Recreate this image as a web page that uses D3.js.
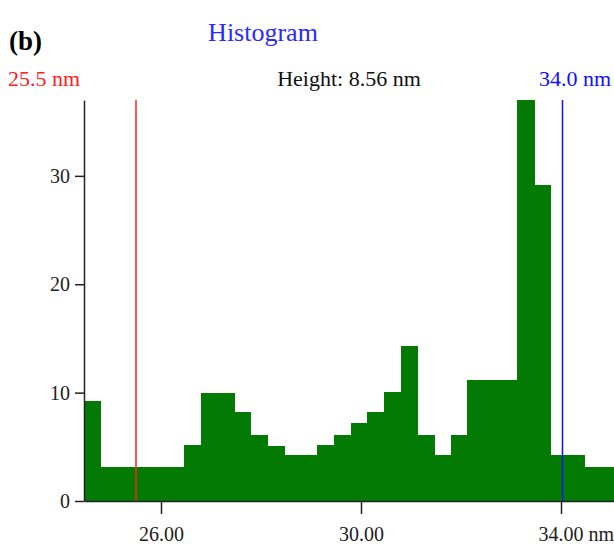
<!DOCTYPE html>
<html>
<head>
<meta charset="utf-8">
<script src="https://cdn.jsdelivr.net/npm/d3@7"></script>
<style>
  body { margin: 0; background: #fff; }
  text { font-family: "Liberation Serif", "DejaVu Serif", serif; }
</style>
</head>
<body>
<div id="chart"></div>
<script>
// histogram bins (nm), first bin start and width
const binStart = 24.46;
const binWidth = 1 / 3;
const counts = [9.2, 3.1, 3.1, 3.1, 3.1, 3.1, 5.2, 10, 10, 8.2, 6.1, 5.1, 4.2, 4.2, 5.2, 6.1,
                7.2, 8.2, 10.1, 14.3, 6.1, 4.2, 6.1, 11.2, 11.2, 11.2, 37, 29.2, 4.2, 4.2, 3.1, 3.1];
const xTicks = [26, 30, 34];
const yTicks = [0, 10, 20, 30];
const redCursor = 25.5;
const blueCursor = 34.03;

const W = 614, H = 547;
const margin = {top: 100, right: 0, bottom: 46, left: 84};

const svg = d3.select("#chart").append("svg")
    .attr("width", W)
    .attr("height", H);

const x = d3.scaleLinear()
    .domain([24.46, 35.06])
    .range([margin.left, W - margin.right]);

const y = d3.scaleLinear()
    .domain([0, 37])
    .range([H - margin.bottom, margin.top]);

// bars
svg.append("g")
    .attr("shape-rendering", "crispEdges")
    .selectAll("rect")
    .data(counts)
    .join("rect")
    .attr("x", (d, i) => x(binStart + i * binWidth))
    .attr("width", (d, i) => x(binStart + (i + 1) * binWidth) - x(binStart + i * binWidth) + 0.6)
    .attr("y", d => y(d))
    .attr("height", d => y(0) - y(d))
    .attr("fill", "#037a03");

// cursors
svg.append("line")
    .attr("x1", x(redCursor)).attr("x2", x(redCursor))
    .attr("y1", y(37)).attr("y2", y(0))
    .attr("stroke", "#ff2020").attr("stroke-width", 1.5);
svg.append("line")
    .attr("x1", x(blueCursor)).attr("x2", x(blueCursor))
    .attr("y1", y(37)).attr("y2", y(0))
    .attr("stroke", "#1010ff").attr("stroke-width", 1.5);

// axes
const xAxis = d3.axisBottom(x)
    .tickValues(xTicks)
    .tickSize(13)
    .tickSizeOuter(0)
    .tickFormat(d => d3.format(".2f")(d) + (d === 34 ? " nm" : ""));
const gx = svg.append("g")
    .attr("transform", `translate(0,${y(0)})`)
    .call(xAxis);
gx.select(".domain").attr("stroke", "#222").attr("stroke-width", 1.5);
gx.selectAll(".tick line").attr("stroke", "#222").attr("stroke-width", 1.5);
gx.selectAll(".tick text")
    .attr("font-family", "Liberation Serif, serif")
    .attr("font-size", 20)
    .attr("fill", "#222")
    .attr("y", 40)
    .attr("dy", null);
// shift the "nm" label so the number sits under the tick
gx.selectAll(".tick text").filter(d => d === 34)
    .attr("text-anchor", "start")
    .attr("dx", -23);

const yAxis = d3.axisLeft(y)
    .tickValues(yTicks)
    .tickSize(9)
    .tickSizeOuter(0)
    .tickFormat(d3.format("d"));
const gy = svg.append("g")
    .attr("transform", `translate(${margin.left},0)`)
    .call(yAxis);
gy.select(".domain").attr("stroke", "#222").attr("stroke-width", 1.5);
gy.selectAll(".tick line").attr("stroke", "#222").attr("stroke-width", 1.5);
gy.selectAll(".tick text")
    .attr("font-family", "Liberation Serif, serif")
    .attr("font-size", 20)
    .attr("fill", "#222")
    .attr("x", -14);

// titles
svg.append("text")
    .attr("x", 9).attr("y", 50)
    .attr("font-size", 27).attr("font-weight", "bold")
    .text("(b)");
svg.append("text")
    .attr("x", 263).attr("y", 41)
    .attr("text-anchor", "middle")
    .attr("font-size", 26).attr("fill", "#2a2aff")
    .text("Histogram");
svg.append("text")
    .attr("x", 8).attr("y", 86)
    .attr("font-size", 22).attr("fill", "#ff2020")
    .text("25.5 nm");
svg.append("text")
    .attr("x", 349).attr("y", 86)
    .attr("text-anchor", "middle")
    .attr("font-size", 22).attr("fill", "#111")
    .text("Height: 8.56 nm");
svg.append("text")
    .attr("x", 611).attr("y", 86)
    .attr("text-anchor", "end")
    .attr("font-size", 22).attr("fill", "#1010ff")
    .text("34.0 nm");
</script>
</body>
</html>
